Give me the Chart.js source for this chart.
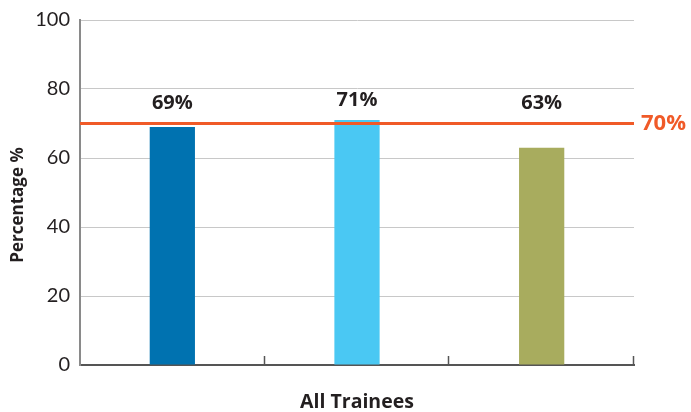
<!DOCTYPE html>
<html>
<head>
<meta charset="utf-8">
<script src="https://cdn.jsdelivr.net/npm/chart.js@4"></script>
<style>
  html, body { margin: 0; padding: 0; background: #fff; }
  #wrap { width: 691px; height: 412px; }
</style>
</head>
<body>
<div id="wrap"><canvas id="chart" width="691" height="412"></canvas></div>
<script>
const groups = ['Group 1', 'Group 2', 'Group 3'];
const percents = [69, 71, 63];
const barColors = ['#0072b0', '#4ac8f3', '#a8ac5e'];
const target = 70;
const yTicks = [0, 20, 40, 60, 80, 100];

const FONT = 'Lato, "Open Sans", sans-serif';
const BOLD = '"Open Sans", Lato, sans-serif';

// linea del target + etichette sopra le barre + tacche sull'asse x + titolo asse y
const extras = {
    id: 'extras',
    afterDatasetsDraw(chart) {
        const ctx = chart.ctx;
        const y = chart.scales.y;
        const area = chart.chartArea;

        ctx.save();
        // target line
        const ty = y.getPixelForValue(target);
        ctx.strokeStyle = '#f05a28';
        ctx.lineWidth = 3;
        ctx.beginPath();
        ctx.moveTo(area.left, ty);
        ctx.lineTo(area.right, ty);
        ctx.stroke();
        ctx.fillStyle = '#f05a28';
        ctx.font = 'bold 22px ' + BOLD;
        ctx.textAlign = 'left';
        ctx.textBaseline = 'middle';
        ctx.fillText(target + '%', area.right + 7, ty);

        // value labels
        ctx.fillStyle = '#231f20';
        ctx.font = 'bold 20px ' + BOLD;
        ctx.textAlign = 'center';
        const meta = chart.getDatasetMeta(0);
        meta.data.forEach((bar, i) => {
            const ly = Math.min(bar.y, ty) - 20;
            ctx.fillText(percents[i] + '%', bar.x, ly);
        });

        // tick marks between categories
        ctx.strokeStyle = '#555';
        ctx.lineWidth = 1.5;
        const step = (area.right - area.left) / groups.length;
        for (let i = 1; i <= groups.length; i++) {
            const px = Math.round(area.left + step * i) - 0.5;
            ctx.beginPath();
            ctx.moveTo(px, area.bottom - 9);
            ctx.lineTo(px, area.bottom);
            ctx.stroke();
        }

        // y axis title
        ctx.translate(18, 205);
        ctx.rotate(-Math.PI / 2);
        ctx.fillStyle = '#231f20';
        ctx.font = 'bold 17px ' + BOLD;
        ctx.textAlign = 'center';
        ctx.textBaseline = 'middle';
        ctx.fillText('Percentage %', 0, 0);
        ctx.restore();
    }
};

new Chart(document.getElementById('chart'), {
    type: 'bar',
    data: {
        labels: groups,
        datasets: [{
            data: percents,
            backgroundColor: barColors,
            categoryPercentage: 1,
            barPercentage: 0.245
        }]
    },
    options: {
        responsive: false,
        animation: false,
        layout: { padding: { top: 15, right: 57, left: 0, bottom: 0 } },
        plugins: { legend: { display: false }, tooltip: { enabled: false } },
        scales: {
            x: {
                afterFit(s) { s.height = 47; },
                grid: { display: false },
                border: { display: true, color: '#555', width: 2 },
                ticks: { display: false },
                title: {
                    display: true,
                    text: 'All Trainees',
                    color: '#231f20',
                    font: { family: BOLD, size: 19.5, weight: 'bold', lineHeight: 1 },
                    padding: { top: 0, bottom: 0 }
                }
            },
            y: {
                min: 0,
                max: 100,
                afterFit(s) { s.width = 80; },
                afterBuildTicks(s) { s.ticks = yTicks.map(v => ({ value: v })); },
                grid: { color: '#c8c8c8', lineWidth: 1, drawTicks: false },
                border: { display: true, color: '#8a8a8a', width: 2 },
                ticks: {
                    padding: 10,
                    color: '#231f20',
                    font: { family: FONT, size: 20, lineHeight: 1 }
                }
            }
        }
    },
    plugins: [extras]
});
</script>
</body>
</html>
